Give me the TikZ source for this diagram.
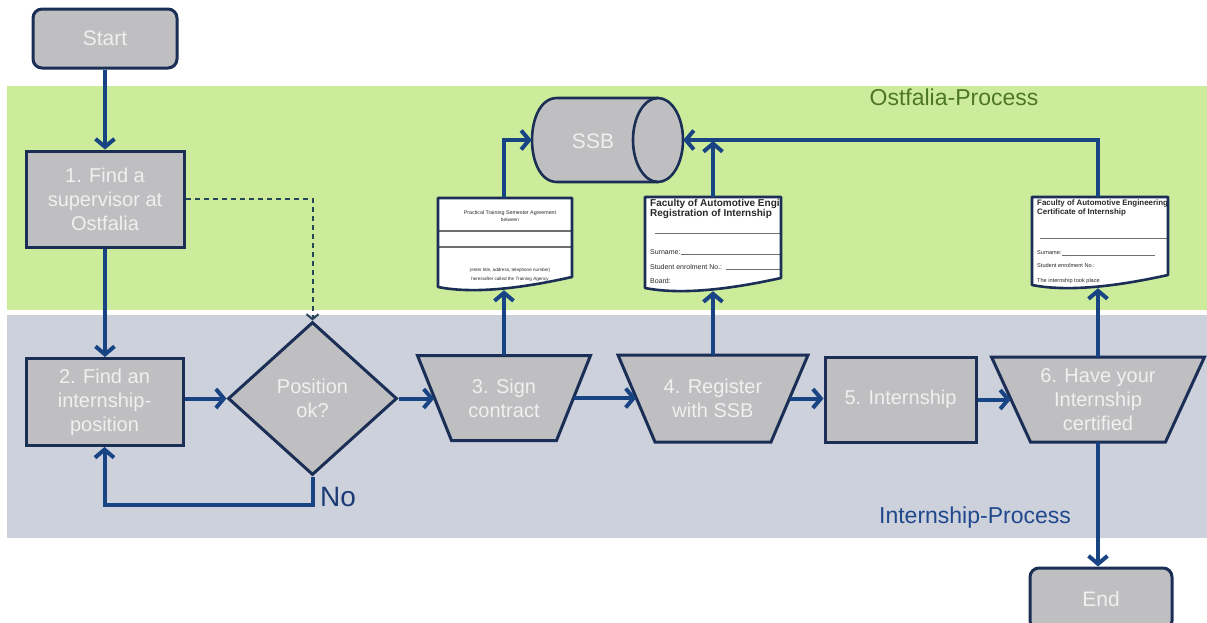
\documentclass[tikz,border=0pt]{standalone}
\usepackage{fontspec}
\setmainfont{Liberation Sans}
\usetikzlibrary{arrows.meta,shapes.geometric,calc}
\definecolor{arrowc}{RGB}{24,68,132}
\definecolor{borderc}{RGB}{26,46,86}
\definecolor{boxfill}{RGB}{191,191,193}
\definecolor{boxtext}{RGB}{240,240,240}
\definecolor{greenband}{RGB}{205,236,155}
\definecolor{grayband}{RGB}{205,209,220}
\definecolor{ostc}{RGB}{78,118,40}
\definecolor{intc}{RGB}{32,72,140}
\definecolor{noc}{RGB}{28,58,118}
\definecolor{dashc}{RGB}{40,70,90}
\definecolor{docline}{RGB}{110,110,110}
\definecolor{doctext}{RGB}{40,40,40}

\newcommand\docshape[5]{%
  \fill[white] (#1,#2) -- (#3,#2) -- (#3,#4-13) .. controls ({#1+0.7*(#3-#1)},#4-4) and ({#1+0.3*(#3-#1)},#4+5) .. (#1,#4-3) -- cycle;
  \begin{scope}
    \clip (#1,#2) -- (#3,#2) -- (#3,#4-13) .. controls ({#1+0.7*(#3-#1)},#4-4) and ({#1+0.3*(#3-#1)},#4+5) .. (#1,#4-3) -- cycle;
    #5
  \end{scope}
  \draw[docborder] (#1,#2) -- (#3,#2) -- (#3,#4-13) .. controls ({#1+0.7*(#3-#1)},#4-4) and ({#1+0.3*(#3-#1)},#4+5) .. (#1,#4-3) -- cycle;
}
\newcommand\trapnode[7]{%
  \draw[shapeline] (#2-#4,#3-#6) -- (#2+#4,#3-#6) -- (#2+#5,#3+#6) -- (#2-#5,#3+#6) -- cycle;
  \node[trapt, minimum width={#4+#5}, minimum height={2*#6}] (#1) at (#2,#3) {#7};
}

\begin{document}
\begin{tikzpicture}[x=1pt,y=-1pt,
  boxfont/.style={font=\fontsize{20}{24}\selectfont},
  box/.style={draw=borderc, line width=3pt, fill=boxfill, text=boxtext, boxfont, align=center, inner sep=0pt},
  term/.style={box, rounded corners=9pt},
  trapt/.style={draw=none, text=boxtext, boxfont, align=center, inner sep=0pt},
  shapeline/.style={draw=borderc, line width=3pt, fill=boxfill, line join=miter},
  docborder/.style={draw=borderc, line width=2.6pt, line join=round},
  invis/.style={draw=none, inner sep=0pt},
  conn/.style={draw=arrowc, line width=4pt},
  arr/.style={conn, -{Straight Barb[length=8pt,width=19pt]}},
  dasharr/.style={draw=dashc, line width=2pt, dash pattern=on 5pt off 4pt, -{Straight Barb[length=5pt,width=12pt]}},
  tiny/.style={inner sep=0pt, text=doctext},
]
\useasboundingbox (0,0) rectangle (1207,622);
\fill[white] (0,0) rectangle (1207,622);

% bands
\fill[greenband] (7,86) rectangle (1207,310);
\fill[grayband] (7,315) rectangle (1207,538);
\node[font=\fontsize{23}{26}\selectfont, text=ostc, inner sep=0pt] (ostlab) at (954,97) {Ostfalia-Process};
\node[font=\fontsize{23}{26}\selectfont, text=intc, inner sep=0pt] (intlab) at (975,518) {Internship-Process};

% nodes
\node[term, font=\fontsize{21}{24}\selectfont, minimum width=144pt, minimum height=59pt] (start) at (105,38.5) {Start};
\node[box, minimum width=158pt, minimum height=96pt] (box1) at (105,199) {1. Find a\\supervisor at\\Ostfalia};
\node[box, minimum width=157pt, minimum height=87pt] (box2) at (104.5,402) {2. Find an\\internship-\\position};
\node[box, diamond, aspect=1.1, minimum width=169pt, minimum height=153pt] (dia) at (312.5,398.5) {Position\\ok?};
\trapnode{t3}{504}{398}{86.5}{52.5}{42.5}{3. Sign\\contract}
\trapnode{t4}{713}{398.5}{95}{58}{43.5}{4. Register\\with SSB}
\node[box, minimum width=151pt, minimum height=85pt] (box5) at (900.5,399.5) {5. Internship};
\trapnode{t6}{1098}{399.5}{106.5}{67.5}{42.5}{6. Have your\\Internship\\certified}
\node[term, font=\fontsize{21}{24}\selectfont, minimum width=142pt, minimum height=62pt] (endn) at (1101,599) {End};

% SSB cylinder
\fill[boxfill] (658,98) -- (557,98) .. controls (523.7,98) and (523.7,182) .. (557,182) -- (658,182) -- cycle;
\fill[boxfill] (658,140) ellipse [x radius=25, y radius=42];
\draw[borderc, line width=2.6pt] (658,98) -- (557,98) .. controls (523.7,98) and (523.7,182) .. (557,182) -- (658,182);
\draw[borderc, line width=2.6pt] (658,140) ellipse [x radius=25, y radius=42];
\node[invis, minimum width=151pt, minimum height=84pt] (cyl) at (607.5,140) {};
\node[text=boxtext, font=\fontsize{21}{24}\selectfont, inner sep=0pt] (ssbt) at (593,141) {SSB};

% documents
\node[invis, minimum width=134pt, minimum height=92pt] (d1) at (505,244) {};
\docshape{438}{198}{572}{290}{%
  \node[tiny, font=\fontsize{5.3}{6}\selectfont] (d1a) at (510,213) {Practical Training Semester Agreement};
  \node[tiny, font=\fontsize{4.8}{5}\selectfont] (d1b) at (510,219.5) {between};
  \draw[docline, line width=1.2pt] (438,231) -- (572,231);
  \draw[docline, line width=1.2pt] (438,247) -- (572,247);
  \node[tiny, font=\fontsize{4.6}{5}\selectfont] (d1c) at (510,270) {(enter title, address, telephone number)};
  \node[tiny, font=\fontsize{4.6}{5}\selectfont] (d1d) at (510,279) {hereinafter called the Training Agency};
}
\node[invis, minimum width=136pt, minimum height=94pt] (d2) at (713,244) {};
\docshape{645}{197}{781}{291}{%
  \node[tiny, anchor=west, font=\bfseries\fontsize{10}{11}\selectfont] (d2a) at (650,203.5) {Faculty of Automotive Engineering};
  \node[tiny, anchor=west, font=\bfseries\fontsize{10}{11}\selectfont] (d2b) at (650,214) {Registration of Internship};
  \draw[docline, line width=1pt] (655,233) -- (781,233);
  \node[tiny, anchor=west, font=\fontsize{7}{8}\selectfont] (d2c) at (650,252) {Surname:};
  \draw[docline, line width=0.8pt] (681,254.5) -- (781,254.5);
  \node[tiny, anchor=west, font=\fontsize{7}{8}\selectfont] (d2d) at (650,267) {Student enrolment No.:};
  \draw[docline, line width=0.8pt] (726,269.5) -- (781,269.5);
  \node[tiny, anchor=west, font=\fontsize{7}{8}\selectfont] (d2e) at (650,281) {Board:};
}
\node[invis, minimum width=136pt, minimum height=91pt] (d3) at (1100,242.5) {};
\docshape{1032}{197}{1168}{288}{%
  \node[tiny, anchor=west, font=\bfseries\fontsize{7.9}{9}\selectfont] (d3a) at (1037,203) {Faculty of Automotive Engineering};
  \node[tiny, anchor=west, font=\bfseries\fontsize{7.9}{9}\selectfont] (d3b) at (1037,212.5) {Certificate of Internship};
  \draw[docline, line width=1pt] (1040,238) -- (1168,238);
  \node[tiny, anchor=west, font=\fontsize{5.6}{6}\selectfont] (d3c) at (1037,253) {Surname:};
  \draw[docline, line width=0.8pt] (1062,255.5) -- (1155,255.5);
  \node[tiny, anchor=west, font=\fontsize{5.6}{6}\selectfont] (d3d) at (1037,265) {Student enrolment No.:};
  \node[tiny, anchor=west, font=\fontsize{5.6}{6}\selectfont] (d3e) at (1037,281) {The internship took place};
}

% connectors
\coordinate (nocorner) at (0,505);
\draw[arr] (start.south) -- (box1.north);
\draw[arr] (box1.south) -- (box1.south |- box2.north);
\draw[dasharr] (box1.east) -| (dia.north);
\draw[arr] (box2.east |- dia.west) -- (dia.west);
\draw[arr] (dia.south) -- (dia.south |- nocorner) -| (box2.south);
\node[text=noc, font=\fontsize{28}{30}\selectfont, inner sep=0pt, anchor=west] (nolab) at (320,497) {No};
\draw[arr] (dia.east) -- (dia.east -| t3.west);
\draw[arr] (t3.east) -- (t3.east -| t4.west);
\draw[arr] (t4.east) -- (t4.east -| box5.west);
\draw[arr] (box5.east) -- (box5.east -| t6.west);
\draw[arr] (t3.north) -- (t3.north |- d1.south);
\draw[arr] (t3.north |- d1.north) |- (cyl.west);
\draw[arr] (t4.north) -- (t4.north |- d2.south);
\draw[arr, shorten >=1pt] (t4.north |- d2.north) -- (t4.north |- cyl.east);
\draw[arr] (t6.north) -- (t6.north |- d3.south);
\draw[arr] (t6.north |- d3.north) |- (cyl.east);
\draw[arr] (t6.south) -- (t6.south |- endn.north);
\end{tikzpicture}
\end{document}
